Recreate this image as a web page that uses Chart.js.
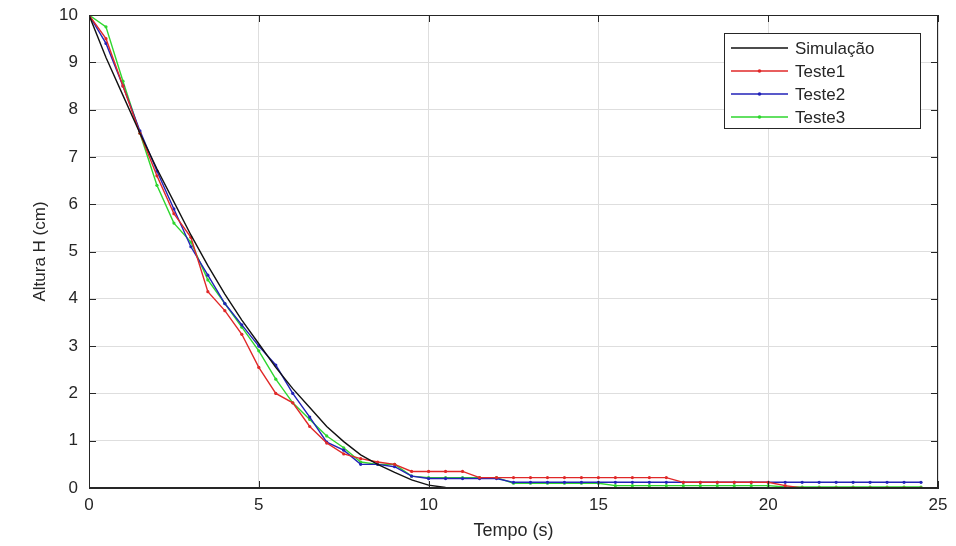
<!DOCTYPE html>
<html>
<head>
<meta charset="utf-8">
<script src="https://cdn.jsdelivr.net/npm/chart.js@4"></script>
<style>
  html, body { margin: 0; padding: 0; background: #fff; }
  #chart { display: block; }
</style>
</head>
<body>
<canvas id="chart" width="956" height="546"></canvas>
<script>
// tempo (s), amostras de 0.5 s
var tempo = [0, 0.5, 1, 1.5, 2, 2.5, 3, 3.5, 4, 4.5, 5, 5.5, 6, 6.5, 7, 7.5, 8, 8.5, 9, 9.5,
  10, 10.5, 11, 11.5, 12, 12.5, 13, 13.5, 14, 14.5, 15, 15.5, 16, 16.5, 17, 17.5, 18, 18.5, 19, 19.5,
  20, 20.5, 21, 21.5, 22, 22.5, 23, 23.5, 24, 24.5];

var simulacao = [10, 9.1, 8.3, 7.5, 6.75, 6.05, 5.35, 4.7, 4.1, 3.55, 3.05, 2.55, 2.1, 1.7, 1.3, 0.98, 0.7, 0.5, 0.33, 0.17,
  0.06, 0.01, 0, 0, 0, 0, 0, 0, 0, 0, 0, 0, 0, 0, 0, 0, 0, 0, 0, 0,
  0, 0, 0, 0, 0, 0, 0, 0, 0, 0];

var teste1 = [10, 9.5, 8.5, 7.5, 6.6, 5.8, 5.3, 4.15, 3.75, 3.25, 2.55, 2.0, 1.8, 1.3, 0.95, 0.72, 0.62, 0.55, 0.5, 0.35,
  0.35, 0.35, 0.35, 0.22, 0.22, 0.22, 0.22, 0.22, 0.22, 0.22, 0.22, 0.22, 0.22, 0.22, 0.22, 0.12, 0.12, 0.12, 0.12, 0.12,
  0.12, 0.05, 0, 0, 0, 0, 0, 0, 0, 0];

var teste2 = [10, 9.4, 8.5, 7.55, 6.7, 5.9, 5.1, 4.5, 3.9, 3.45, 3.0, 2.6, 2.0, 1.5, 0.97, 0.8, 0.5, 0.5, 0.45, 0.25,
  0.2, 0.2, 0.2, 0.2, 0.2, 0.12, 0.12, 0.12, 0.12, 0.12, 0.12, 0.12, 0.12, 0.12, 0.12, 0.12, 0.12, 0.12, 0.12, 0.12,
  0.12, 0.12, 0.12, 0.12, 0.12, 0.12, 0.12, 0.12, 0.12, 0.12];

var teste3 = [10, 9.75, 8.6, 7.5, 6.4, 5.6, 5.2, 4.4, 3.9, 3.4, 2.9, 2.3, 1.8, 1.45, 1.1, 0.85, 0.55, 0.5, 0.5, 0.25,
  0.22, 0.22, 0.22, 0.22, 0.22, 0.1, 0.1, 0.1, 0.1, 0.1, 0.1, 0.05, 0.05, 0.05, 0.05, 0.05, 0.05, 0.05, 0.05, 0.05,
  0.05, 0.02, 0.02, 0.02, 0.02, 0.02, 0.02, 0.02, 0.02, 0.02];

var xTicks = [0, 5, 10, 15, 20, 25];
var yTicks = [0, 1, 2, 3, 4, 5, 6, 7, 8, 9, 10];

var FONT = "'Liberation Sans', Arial, Helvetica, sans-serif";
var TXT = "#262626";

function pts(ys) {
  return ys.map(function (y, i) { return { x: tempo[i], y: y }; });
}

function serie(label, ys, color, marker) {
  return {
    label: label,
    data: pts(ys),
    borderColor: color,
    backgroundColor: color,
    borderWidth: 1.4,
    pointRadius: marker ? 1.6 : 0,
    pointBorderWidth: 0,
    pointBackgroundColor: color,
    tension: 0,
    fill: false,
  };
}

// moldura (box on) com marcas para dentro, estilo MATLAB
var boxPlugin = {
  id: "boxPlugin",
  afterDatasetsDraw: function (chart) {
    var ctx = chart.ctx;
    var a = chart.chartArea;
    var sx = chart.scales.x, sy = chart.scales.y;
    ctx.save();
    ctx.strokeStyle = "#262626";
    ctx.lineWidth = 1;
    ctx.strokeRect(a.left + 0.5, a.top + 0.5, a.right - a.left - 1, a.bottom - a.top - 1);
    ctx.beginPath();
    xTicks.forEach(function (v) {
      var px = Math.round(sx.getPixelForValue(v)) + 0.5;
      ctx.moveTo(px, a.bottom); ctx.lineTo(px, a.bottom - 7);
      ctx.moveTo(px, a.top); ctx.lineTo(px, a.top + 7);
    });
    yTicks.forEach(function (v) {
      var py = Math.round(sy.getPixelForValue(v)) + 0.5;
      ctx.moveTo(a.left, py); ctx.lineTo(a.left + 7, py);
      ctx.moveTo(a.right, py); ctx.lineTo(a.right - 7, py);
    });
    ctx.stroke();
    ctx.restore();
  },
};

// legenda em caixa no canto superior direito
var legendPlugin = {
  id: "legendBox",
  afterDraw: function (chart) {
    var ctx = chart.ctx;
    var x0 = 724, y0 = 33, w = 196, h = 95;
    ctx.save();
    ctx.fillStyle = "#fff";
    ctx.fillRect(x0, y0, w, h);
    ctx.strokeStyle = "#262626";
    ctx.lineWidth = 1;
    ctx.strokeRect(x0 + 0.5, y0 + 0.5, w, h);
    ctx.font = "17px " + FONT;
    ctx.textBaseline = "middle";
    chart.data.datasets.forEach(function (ds, i) {
      var yy = y0 + 15 + i * 23;
      ctx.strokeStyle = ds.borderColor;
      ctx.lineWidth = 1.4;
      ctx.beginPath();
      ctx.moveTo(x0 + 7, yy);
      ctx.lineTo(x0 + 64, yy);
      ctx.stroke();
      if (ds.pointRadius > 0) {
        ctx.fillStyle = ds.borderColor;
        ctx.beginPath();
        ctx.arc(x0 + 35.5, yy, 1.8, 0, Math.PI * 2);
        ctx.fill();
      }
      ctx.fillStyle = TXT;
      ctx.fillText(ds.label, x0 + 71, yy + 1);
    });
    ctx.restore();
  },
};

var ctx = document.getElementById("chart");

var myChart = new Chart(ctx, {
  type: "line",
  data: {
    datasets: [
      serie("Simulação", simulacao, "#111111", false),
      serie("Teste1", teste1, "#e02828", true),
      serie("Teste2", teste2, "#2222b8", true),
      serie("Teste3", teste3, "#2ed62e", true),
    ],
  },
  options: {
    responsive: false,
    animation: false,
    devicePixelRatio: 1,
    layout: { padding: { top: 15, right: 18, left: 0, bottom: 0 } },
    plugins: {
      legend: { display: false },
      tooltip: { enabled: false },
    },
    scales: {
      x: {
        type: "linear",
        min: 0,
        max: 25,
        afterFit: function (s) { s.height = 58; s.paddingLeft = 0; s.paddingRight = 0; },
        afterBuildTicks: function (s) { s.ticks = xTicks.map(function (v) { return { value: v }; }); },
        ticks: {
          color: TXT,
          font: { family: FONT, size: 17 },
          padding: 7,
          maxRotation: 0,
        },
        grid: { color: "#dedede", drawTicks: false },
        border: { display: true, color: "#262626" },
        title: {
          display: true,
          text: "Tempo (s)",
          color: TXT,
          font: { family: FONT, size: 18 },
          padding: { top: 0, bottom: 4 },
        },
      },
      y: {
        min: 0,
        max: 10,
        afterFit: function (s) { s.width = 89; s.paddingTop = 0; s.paddingBottom = 0; },
        afterBuildTicks: function (s) { s.ticks = yTicks.map(function (v) { return { value: v }; }); },
        ticks: {
          color: TXT,
          font: { family: FONT, size: 17 },
          padding: 11,
        },
        grid: { color: "#dedede", drawTicks: false },
        border: { display: true, color: "#262626" },
        title: {
          display: true,
          text: "Altura H (cm)",
          color: TXT,
          font: { family: FONT, size: 17 },
          padding: { top: 30, bottom: 0 },
        },
      },
    },
  },
  plugins: [boxPlugin, legendPlugin],
});
</script>
</body>
</html>
